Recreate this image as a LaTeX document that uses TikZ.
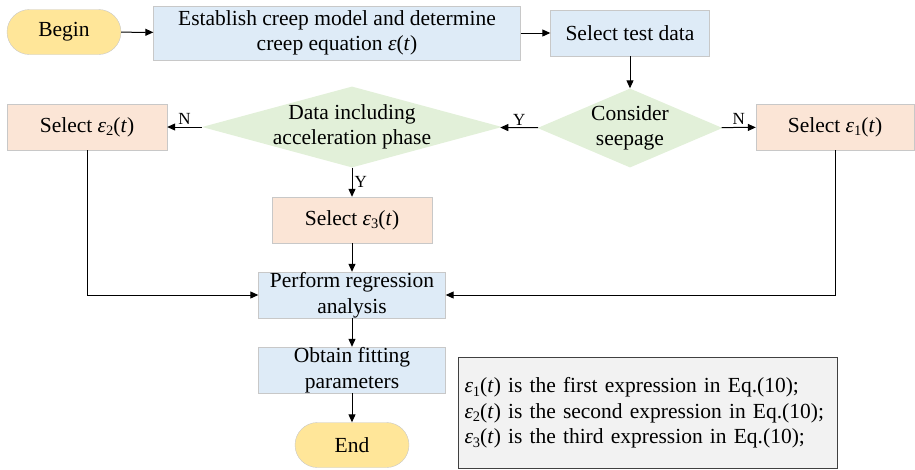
\documentclass[tikz,border=0pt]{standalone}
\usepackage{fontspec}
\setmainfont{Liberation Serif}
\usepackage{xcolor}
\usepackage{tikz}
\usetikzlibrary{arrows.meta,shapes.misc,shapes.geometric}
\definecolor{termfill}{HTML}{FFE699}
\definecolor{procfill}{HTML}{DEEBF7}
\definecolor{selfill}{HTML}{FBE5D6}
\definecolor{decfill}{HTML}{E2F0D9}
\definecolor{edgegray}{HTML}{C8C8C8}
\newcommand{\epsof}[1]{\textit{ε}\raisebox{-.35ex}{\fontsize{14.5}{14.5}\selectfont #1}(\textit{t})}
\newcommand{\zw}[1]{\makebox[0pt]{#1}}

\begin{document}
\begin{tikzpicture}[x=1pt,y=-1pt,font=\fontsize{21.5}{25.5}\selectfont,
  terminal/.style={rounded rectangle,draw=edgegray,fill=termfill,minimum width=114pt,minimum height=45pt,inner sep=0pt},
  procbox/.style={rectangle,draw=edgegray,fill=procfill,align=center,inner sep=0pt},
  selbox/.style={rectangle,draw=edgegray,fill=selfill,align=center,inner sep=0pt,minimum width=160pt,minimum height=46pt},
  decision/.style={diamond,fill=decfill,align=center,inner sep=0pt,shape aspect=1},
  arr/.style={-{Triangle[length=8pt,width=7pt]},line width=1pt},
  lbl/.style={font=\fontsize{17}{17}\selectfont,inner sep=2pt}]
\useasboundingbox (0,0) rectangle (915,469);
\node[terminal] (begin) at (64,32) {Begin};
\node[procbox,minimum width=367pt,minimum height=54pt] (model) at (337,33) {Establish creep model and determine\\creep equation \textit{ε}(\textit{t})};
\node[procbox,minimum width=159pt,minimum height=46pt] (test) at (630,33) {Select test data};
\node[decision,minimum width=185pt,minimum height=79pt] (seep) at (630,128) {\zw{Consider}\\\zw{seepage}};
\node[decision,minimum width=300pt,minimum height=81pt] (accel) at (352,127) {\zw{Data including}\\\zw{acceleration phase}};
\node[selbox,minimum width=158pt] (sel1) at (835,127) {Select \epsof{1}};
\node[selbox] (sel2) at (87,127) {Select \epsof{2}};
\node[selbox] (sel3) at (352,220) {Select \epsof{3}};
\node[procbox,minimum width=187pt,minimum height=46pt] (regr) at (352,295) {Perform regression\\analysis};
\node[procbox,minimum width=187pt,minimum height=46pt] (fit) at (352,370) {Obtain fitting\\parameters};
\node[terminal] (end) at (352,445) {End};
\node[draw=black!75,fill=black!5,line width=1pt,anchor=north west,minimum width=379pt,minimum height=111pt,
  text width=367pt,align=left,inner sep=6pt] (note) at (458,357)
  {\epsof{1} is the first expression in Eq.(10);\\\epsof{2} is the second expression in Eq.(10);\\\epsof{3} is the third expression in Eq.(10);};
\draw[arr] (begin) -- (model);
\draw[arr] (model) -- (test);
\draw[arr] (test) -- (seep);
\draw[arr] (seep) -- node[lbl,above] {Y} (accel);
\draw[arr] (seep) -- node[lbl,above] {N} (sel1);
\draw[arr] (accel) -- node[lbl,above] {N} (sel2);
\draw[arr] (accel) -- node[lbl,right] {Y} (sel3);
\draw[arr] (sel3) -- (regr);
\draw[arr] (sel2.south) |- (regr.west);
\draw[arr] (sel1.south) |- (regr.east);
\draw[arr] (regr) -- (fit);
\draw[arr] (fit) -- (end);
\end{tikzpicture}
\end{document}
